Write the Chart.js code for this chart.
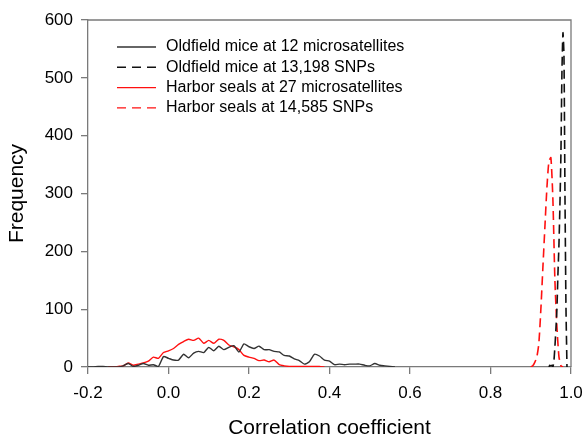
<!DOCTYPE html>
<html>
<head>
<meta charset="utf-8">
<script src="https://cdn.jsdelivr.net/npm/chart.js@4.4.1/dist/chart.umd.min.js"></script>
<style>
  html, body { margin: 0; padding: 0; background: #fff; }
  #wrap { width: 586px; height: 435px; }
</style>
</head>
<body>
<div id="wrap"><canvas id="myChart"></canvas></div>
<script>
// bins for the microsatellite histograms
let msBins = [-0.2, -0.1875, -0.175, -0.1625, -0.15, -0.1375, -0.125, -0.1125, -0.1, -0.0875,
  -0.075, -0.0625, -0.05, -0.0375, -0.025, -0.0125, 0, 0.0125, 0.025, 0.0375,
  0.05, 0.0625, 0.075, 0.0875, 0.1, 0.1125, 0.125, 0.1375, 0.15, 0.1625,
  0.175, 0.1875, 0.2, 0.2125, 0.225, 0.2375, 0.25, 0.2625, 0.275, 0.2875,
  0.3, 0.3125, 0.325, 0.3375, 0.35, 0.3625, 0.375, 0.3875, 0.4, 0.4125,
  0.425, 0.4375, 0.45, 0.4625, 0.475, 0.4875, 0.5, 0.5125, 0.525, 0.5375,
  0.55, 0.5625];

let miceMs = [0, 0, 1, 1, 0, 0, 0, 2, 6, 1,
  3, 6, 3, 4, 1, 18, 15, 12, 12, 22,
  16, 24, 27, 25, 34, 28, 36, 30, 34, 37,
  26, 40, 35, 32, 36, 30, 30, 27, 26, 20,
  19, 14, 11, 5, 9, 22, 19, 12, 10, 4,
  5, 4, 5, 5, 5, 3, 2, 6, 3, 2,
  1, 0];

let sealMs = [null, null, null, null, 0, 0, 1, 2, 7, 3,
  5, 7, 10, 17, 15, 25, 28, 32, 39, 44,
  48, 46, 50, 41, 46, 41, 48, 46, 38, 35,
  30, 20, 17, 15, 11, 12, 9, 12, 4, 2,
  1, 1, 1, 1, 1, 1, 1, 0, null, null,
  null, null, null, null, null, null, null, null, null, null,
  null, null];

let miceSnpX = [0.945, 0.9475, 0.95, 0.9525, 0.955, 0.9575, 0.96, 0.9625, 0.965, 0.9675,
  0.97, 0.9725, 0.975, 0.9775, 0.98, 0.9825, 0.985, 0.9875, 0.99];
let miceSnp = [0, 3, 2, 3, 0, 10, 35, 65, 100, 160,
  210, 280, 370, 510, 578, 540, 300, 104, 0];

let sealSnpX = [0.9, 0.905, 0.91, 0.915, 0.92, 0.925, 0.93, 0.935, 0.94, 0.945,
  0.95, 0.955, 0.96, 0.965, 0.97, 0.975, 0.98];
let sealSnp = [0, 2, 8, 17, 40, 98, 170, 240, 308, 355,
  362, 290, 150, 70, 18, 2, 0];

let seriesNames = ['Oldfield mice at 12 microsatellites', 'Oldfield mice at 13,198 SNPs',
  'Harbor seals at 27 microsatellites', 'Harbor seals at 14,585 SNPs'];

function pts(xs, ys) {
  return xs.map((x, i) => ({x: x, y: ys[i]}));
}

const axisGray = '#7a7a7a';
const fontFam = '"Liberation Sans", Arial, sans-serif';

// frame round the plot + legend inside it
const framePlugin = {
  id: 'frame',
  afterDraw(chart) {
    const {ctx, chartArea: a} = chart;
    ctx.save();
    ctx.strokeStyle = axisGray;
    ctx.lineWidth = 1.3;
    ctx.beginPath();
    ctx.moveTo(a.left, a.top);
    ctx.lineTo(a.right, a.top);
    ctx.lineTo(a.right, a.bottom);
    ctx.stroke();

    ctx.font = '16px ' + fontFam;
    ctx.textBaseline = 'middle';
    chart.data.datasets.forEach((ds, i) => {
      const y = 47 + i * 20.3;
      ctx.strokeStyle = ds.borderColor;
      ctx.lineWidth = 1.4;
      ctx.setLineDash(ds.borderDash ? [9, 6] : []);
      ctx.beginPath();
      ctx.moveTo(117, y);
      ctx.lineTo(156, y);
      ctx.stroke();
      ctx.setLineDash([]);
      ctx.fillStyle = '#000';
      ctx.fillText(ds.label, 166, y);
    });
    ctx.restore();
  }
};

let ctx = document.getElementById('myChart').getContext('2d');

let chart = new Chart(ctx, {
  type: 'line',
  data: {
    datasets: [{
      label: seriesNames[0],
      data: pts(msBins, miceMs),
      borderColor: '#333333',
      borderWidth: 1.4
    }, {
      label: seriesNames[1],
      data: pts(miceSnpX, miceSnp),
      borderColor: '#111111',
      borderWidth: 1.6,
      borderDash: [9, 5]
    }, {
      label: seriesNames[2],
      data: pts(msBins, sealMs),
      borderColor: '#ff1010',
      borderWidth: 1.4
    }, {
      label: seriesNames[3],
      data: pts(sealSnpX, sealSnp),
      borderColor: '#ff1010',
      borderWidth: 1.6,
      borderDash: [9, 5]
    }]
  },
  options: {
    responsive: true,
    maintainAspectRatio: false,
    animation: false,
    layout: { padding: { top: 20, right: 15, left: 0, bottom: 0 } },
    elements: {
      point: { radius: 0 },
      line: { tension: 0.2, fill: false }
    },
    plugins: {
      legend: { display: false },
      tooltip: { enabled: false }
    },
    scales: {
      x: {
        type: 'linear',
        min: -0.2,
        max: 1.0,
        ticks: {
          stepSize: 0.2,
          color: '#000',
          padding: 9,
          font: { family: fontFam, size: 17 },
          callback: v => (Math.abs(v) < 1e-9 ? 0 : v).toFixed(1)
        },
        grid: { drawOnChartArea: false, tickLength: 7, color: axisGray, lineWidth: 1.3 },
        border: { color: axisGray, width: 1.3 },
        title: {
          display: true,
          text: 'Correlation coefficient',
          color: '#000',
          font: { family: fontFam, size: 21, lineHeight: 1 },
          padding: { top: 0, bottom: -4 }
        },
        afterFit: s => { s.height = 68; s.paddingLeft = 0; s.paddingRight = 0; }
      },
      y: {
        min: 0,
        max: 600,
        ticks: {
          stepSize: 100,
          color: '#000',
          padding: 8,
          font: { family: fontFam, size: 17 }
        },
        grid: { drawOnChartArea: false, tickLength: 7, color: axisGray, lineWidth: 1.3 },
        border: { color: axisGray, width: 1.3 },
        title: {
          display: true,
          text: 'Frequency',
          color: '#000',
          font: { family: fontFam, size: 21, lineHeight: 1 },
          padding: { top: 7, bottom: 0 }
        },
        afterFit: s => { s.width = 88; s.paddingTop = 0; s.paddingBottom = 0; }
      }
    }
  },
  plugins: [framePlugin]
});
</script>
</body>
</html>
